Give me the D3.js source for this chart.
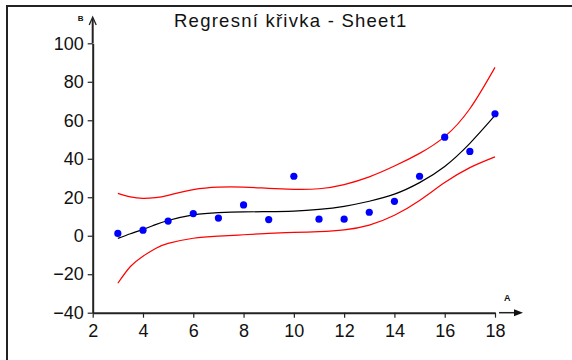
<!DOCTYPE html>
<html>
<head>
<meta charset="utf-8">
<script src="https://cdn.jsdelivr.net/npm/d3@7/dist/d3.min.js"></script>
<style>
  html, body { margin: 0; padding: 0; background: #fff; }
  svg { display: block; }
  text { font-family: "Liberation Sans", Arial, sans-serif; fill: #111; }
</style>
</head>
<body>
<svg id="chart" width="572" height="360"></svg>
<script>
// Observed data
const xValues = [3, 4, 5, 6, 7, 8, 9, 10, 11, 12, 13, 14, 15, 16, 17, 18];
const yValues = [1.2, 2.9, 7.6, 11.5, 9.2, 16, 8.4, 30.9, 8.6, 8.6, 12.2, 17.9, 30.9, 51.2, 43.8, 63.4];

// Regression curve and its confidence band, sampled along A
const curveX = [3, 3.5, 4, 4.5, 5, 6, 7, 8, 9, 10, 11, 12, 13, 14, 15, 16, 17, 18];
const fitY   = [-1.4, 1.0, 3.3, 5.8, 7.9, 10.8, 12, 12.4, 12.5, 12.8, 13.7, 15.3, 17.9, 21.6, 27.6, 36, 48, 62.5];
const upperY = [22, 20.2, 19.4, 19.8, 21, 24, 25.3, 25.3, 24.6, 24.1, 24.4, 26.6, 30.6, 36.2, 42.8, 51.5, 66, 87.5];
const lowerY = [-24.7, -16, -10.6, -6.6, -4, -1.3, -0.2, 0.5, 1.2, 1.7, 2.1, 3, 5.5, 10.6, 18.3, 27.6, 35.4, 41];

// Axis ticks
const xTicks = [2, 4, 6, 8, 10, 12, 14, 16, 18];
const yTicks = [-40, -20, 0, 20, 40, 60, 80, 100];

const titleText = "Regresní křivka - Sheet1";
const xName = "A";
const yName = "B";

const svg = d3.select("#chart");

const x = d3.scaleLinear().domain([2, 18]).range([92.7, 495]);
const y = d3.scaleLinear().domain([-40, 100]).range([312.7, 43.3]);

// Panel frame (top and left edges)
svg.append("path")
  .attr("d", "M7,360 L7,6 L572,6")
  .attr("fill", "none")
  .attr("stroke", "#222")
  .attr("stroke-width", 2);

// Title
svg.append("text")
  .attr("x", 174)
  .attr("y", 27)
  .attr("font-size", 18.5)
  .attr("letter-spacing", 1.25)
  .attr("fill", "#222")
  .text(titleText);

// Axes
const yAxis = d3.axisLeft(y).tickValues(yTicks).tickSize(5).tickSizeOuter(0).tickPadding(4);
const xAxis = d3.axisBottom(x).tickValues(xTicks).tickSize(5).tickSizeOuter(0).tickPadding(7);

const gy = svg.append("g").attr("transform", `translate(${x(2)},0)`).call(yAxis);
const gx = svg.append("g").attr("transform", `translate(0,${y(-40)})`).call(xAxis);

[gx, gy].forEach(g => {
  g.select(".domain").attr("stroke", "#222").attr("stroke-width", 2);
  g.selectAll(".tick line").attr("stroke", "#222").attr("stroke-width", 1.2);
  g.selectAll(".tick text")
    .attr("font-family", "\"Liberation Sans\", Arial, sans-serif")
    .attr("font-size", 18)
    .attr("fill", "#111");
});

// Axis arrows
const ax = x(2);
svg.append("line")
  .attr("x1", ax).attr("y1", y(100)).attr("x2", ax).attr("y2", 19)
  .attr("stroke", "#222").attr("stroke-width", 2);
svg.append("path")
  .attr("d", `M${ax - 3.5},${25} L${ax},${17} L${ax + 3.5},${25}`)
  .attr("fill", "none").attr("stroke", "#222").attr("stroke-width", 1.3);

const ay = y(-40);
svg.append("line")
  .attr("x1", 499).attr("y1", ay).attr("x2", 518).attr("y2", ay)
  .attr("stroke", "#222").attr("stroke-width", 1.5);
svg.append("path")
  .attr("d", `M514,${ay - 3.5} L523,${ay} L514,${ay + 3.5} Z`)
  .attr("fill", "#111");

svg.append("text")
  .attr("x", ax - 15).attr("y", 21)
  .attr("font-size", 8).attr("font-weight", "bold")
  .text(yName);
svg.append("text")
  .attr("x", 504).attr("y", ay - 12)
  .attr("font-size", 9).attr("font-weight", "bold")
  .text(xName);

// Confidence band and fitted curve
const lineOf = ys => d3.line()
  .x((d, i) => x(curveX[i]))
  .y(d => y(d))
  .curve(d3.curveNatural)(ys);

svg.append("path").attr("d", lineOf(upperY))
  .attr("fill", "none").attr("stroke", "#ff0000").attr("stroke-width", 1.2);
svg.append("path").attr("d", lineOf(lowerY))
  .attr("fill", "none").attr("stroke", "#ff0000").attr("stroke-width", 1.2);
svg.append("path").attr("d", lineOf(fitY))
  .attr("fill", "none").attr("stroke", "#000").attr("stroke-width", 1.2);

// Data points
svg.append("g").selectAll("circle")
  .data(xValues.map((v, i) => [v, yValues[i]]))
  .join("circle")
  .attr("cx", d => x(d[0]))
  .attr("cy", d => y(d[1]))
  .attr("r", 3.6)
  .attr("fill", "#0000ff");
</script>
</body>
</html>
